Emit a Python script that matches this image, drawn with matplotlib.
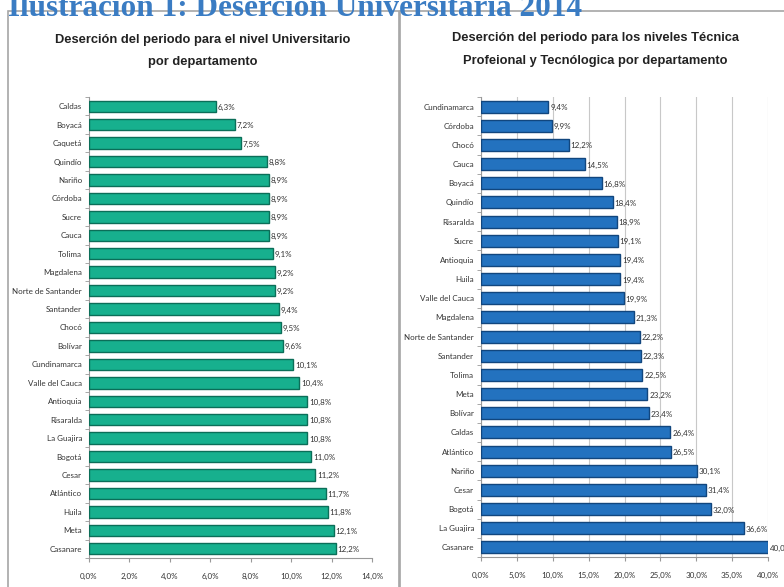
import matplotlib
matplotlib.use('Agg')
import matplotlib.pyplot as plt
from matplotlib.patches import Rectangle
from matplotlib.ticker import FixedLocator

# data
# ----
uni_deptos = ['Caldas', 'Boyacá', 'Caquetá', 'Quindío', 'Nariño', 'Córdoba', 'Sucre',
              'Cauca', 'Tolima', 'Magdalena', 'Norte de Santander', 'Santander', 'Chocó',
              'Bolívar', 'Cundinamarca', 'Valle del Cauca', 'Antioquia', 'Risaralda',
              'La Guajira', 'Bogotá', 'Cesar', 'Atlántico', 'Huila', 'Meta', 'Casanare']
uni_vals = [6.3, 7.2, 7.5, 8.8, 8.9, 8.9, 8.9, 8.9, 9.1, 9.2, 9.2, 9.4, 9.5, 9.6,
            10.1, 10.4, 10.8, 10.8, 10.8, 11.0, 11.2, 11.7, 11.8, 12.1, 12.2]
uni_ticks = [0, 2, 4, 6, 8, 10, 12, 14]

tec_deptos = ['Cundinamarca', 'Córdoba', 'Chocó', 'Cauca', 'Boyacá', 'Quindío', 'Risaralda',
              'Sucre', 'Antioquia', 'Huila', 'Valle del Cauca', 'Magdalena',
              'Norte de Santander', 'Santander', 'Tolima', 'Meta', 'Bolívar', 'Caldas',
              'Atlántico', 'Nariño', 'Cesar', 'Bogotá', 'La Guajira', 'Casanare']
tec_vals = [9.4, 9.9, 12.2, 14.5, 16.8, 18.4, 18.9, 19.1, 19.4, 19.4, 19.9, 21.3,
            22.2, 22.3, 22.5, 23.2, 23.4, 26.4, 26.5, 30.1, 31.4, 32.0, 36.6, 40.0]
tec_ticks = [0, 5, 10, 15, 20, 25, 30, 35, 40]

FONT = ['Lato', 'Liberation Sans', 'DejaVu Sans']
FS = 5.8

def pct(v):
    return ('%.1f%%' % v).replace('.', ',')

def drawPanel(ax, names, vals, ticks, col, edge, grid):
    n = len(names)
    y = list(range(n))
    ax.barh(y, vals, height=0.62, color=col, edgecolor=edge, linewidth=1.0, zorder=3)
    for yi, v in zip(y, vals):
        ax.text(v + ticks[-1] * 0.006, yi + 0.05, pct(v), va='center', ha='left',
                fontsize=FS, family=FONT, color='#333333', zorder=4, clip_on=False)
    ax.set_ylim(n - 0.5, -0.5)
    ax.set_xlim(0, ticks[-1])
    ax.set_yticks(y)
    ax.set_yticklabels(names, family=FONT, fontsize=FS, color='#333333')
    ax.yaxis.set_minor_locator(FixedLocator([i - 0.5 for i in range(n + 1)]))
    ax.tick_params(axis='y', which='major', length=0, pad=5)
    ax.tick_params(axis='y', which='minor', length=3, color='#999999')
    ax.set_xticks(ticks)
    ax.set_xticklabels([pct(t) for t in ticks], family=FONT, fontsize=FS, color='#333333')
    ax.tick_params(axis='x', length=3, color='#999999', pad=8)
    for s in ['top', 'right']:
        ax.spines[s].set_visible(False)
    for s in ['left', 'bottom']:
        ax.spines[s].set_color('#999999')
        ax.spines[s].set_linewidth(0.8)
    if grid:
        ax.grid(axis='x', color='#c8c8c8', linewidth=0.8, zorder=0)
    ax.set_facecolor('white')


fig = plt.figure(figsize=(7.84, 5.87), dpi=100)

# header, cut off at top
fig.text(8 / 784, 1 - 16 / 587, 'Ilustración 1: Deserción Universitaria 2014',
         family=['Liberation Serif', 'DejaVu Serif'], fontweight='bold', fontsize=22.5,
         color='#3A7CC3', ha='left', va='baseline')

# panel borders
fig.patches.append(Rectangle((8 / 784, -0.05), 391 / 784, 1.05 - 11 / 587,
                             transform=fig.transFigure, fill=False,
                             edgecolor='#a6a6a6', linewidth=1.2))
fig.patches.append(Rectangle((400 / 784, -0.05), 400 / 784, 1.05 - 11 / 587,
                             transform=fig.transFigure, fill=False,
                             edgecolor='#a6a6a6', linewidth=1.2))

TFONT = ['Liberation Sans', 'DejaVu Sans']
TS = 9.3
fig.text(203 / 784, 1 - 40 / 587, 'Deserción del periodo para el nivel Universitario',
         family=TFONT, fontweight='bold', fontsize=TS, ha='center', va='center', color='#222222')
fig.text(203 / 784, 1 - 62 / 587, 'por departamento',
         family=TFONT, fontweight='bold', fontsize=TS, ha='center', va='center', color='#222222')
fig.text(595 / 784, 1 - 38 / 587, 'Deserción del periodo para los niveles Técnica',
         family=TFONT, fontweight='bold', fontsize=TS, ha='center', va='center', color='#222222')
fig.text(595 / 784, 1 - 61 / 587, 'Profeional y Tecnólogica por departamento',
         family=TFONT, fontweight='bold', fontsize=TS, ha='center', va='center', color='#222222')

ax1 = fig.add_axes([89 / 784, 1 - 558 / 587, (372 - 89) / 784, (558 - 97) / 587])
drawPanel(ax1, uni_deptos, uni_vals, uni_ticks, '#17B08E', '#0b6e58', False)

ax2 = fig.add_axes([481 / 784, 1 - 557 / 587, (768 - 481) / 784, (557 - 97) / 587])
drawPanel(ax2, tec_deptos, tec_vals, tec_ticks, '#2372BF', '#11467e', True)

fig.savefig('out.png', dpi=100)
